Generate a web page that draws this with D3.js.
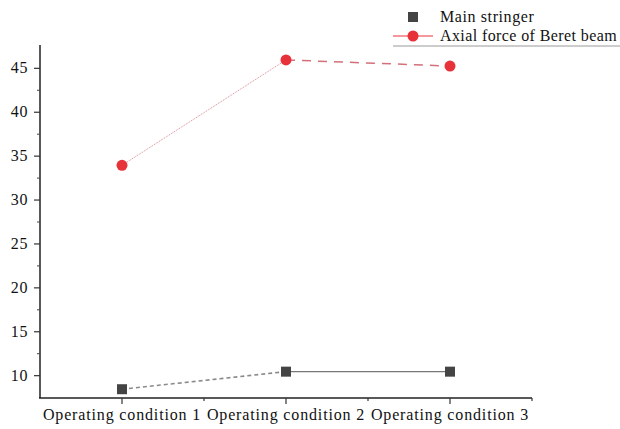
<!DOCTYPE html>
<html><head><meta charset="utf-8">
<script src="https://cdn.jsdelivr.net/npm/d3@7"></script>
<style>
html,body{margin:0;padding:0;background:#fff;}
text{font-family:"Liberation Serif","Times New Roman",serif;fill:#111;}
</style></head>
<body>
<svg id="c" width="620" height="429"></svg>
<script>
const categories = ["Operating condition 1","Operating condition 2","Operating condition 3"];
const stringerValues = [8.4, 10.4, 10.4];
const axialValues = [33.9, 45.9, 45.2];
const yTicks = [10, 15, 20, 25, 30, 35, 40, 45];
const yMinorTicks = [12.5, 17.5, 22.5, 27.5, 32.5, 37.5, 42.5];
const seriesNames = ["Main stringer", "Axial force of Beret beam"];

const svg = d3.select("#c");
const mLeft = 40, mRight = 532, mTop = 45, mBottom = 398;

const x = d3.scaleBand().domain(categories).range([mLeft, mRight]).padding(0);
const y = d3.scaleLinear().domain([7.4, 47.6]).range([mBottom, mTop]);
const cx = d => x(d) + x.bandwidth() / 2;

// Y axis
const yAxis = d3.axisLeft(y).tickValues(yTicks).tickSize(6).tickPadding(6).tickFormat(d3.format("d"));
const gy = svg.append("g").attr("transform", `translate(${mLeft},0)`).call(yAxis);
gy.select(".domain").attr("d", `M0,${mTop}V${mBottom}`).attr("stroke", "#222").attr("stroke-width", 1.5);
gy.selectAll(".tick line").attr("stroke", "#333").attr("stroke-width", 1.2);
gy.selectAll(".tick text").style("font-size", "16px").style("letter-spacing", "0.6px").attr("fill", "#222");
svg.append("g").attr("transform", `translate(${mLeft},0)`)
  .call(d3.axisLeft(y).tickValues(yMinorTicks).tickSize(3).tickFormat(""))
  .call(g => g.select(".domain").remove())
  .selectAll(".tick line").attr("stroke", "#444");

// X axis
const xAxis = d3.axisBottom(x).tickSize(6).tickPadding(5);
const gx = svg.append("g").attr("transform", `translate(0,${mBottom})`).call(xAxis);
gx.select(".domain").attr("d", `M${mLeft - 1},0H${mRight}`).attr("stroke", "#222").attr("stroke-width", 1.5);
gx.selectAll(".tick line").attr("stroke", "#333").attr("stroke-width", 1.2);
gx.selectAll(".tick text").style("font-size", "16px").style("letter-spacing", "0.85px").attr("fill", "#222");
const boundaries = categories.slice(1).map(c => x(c)).concat([mRight]);
svg.append("g").selectAll("line").data(boundaries).join("line")
  .attr("x1", d => d).attr("x2", d => d)
  .attr("y1", mBottom).attr("y2", mBottom + 3)
  .attr("stroke", "#333").attr("stroke-width", 1.2);

// Segment styles
const stringerSeg = [
  {color: "#8a8a8a", width: 1.6, dash: "4,3"},
  {color: "#777", width: 1.2, dash: null}
];
const axialSeg = [
  {color: "#d98990", width: 1, dash: "1,1"},
  {color: "#d47079", width: 1.5, dash: "9,7"}
];

function drawSeries(vals, segs) {
  const g = svg.append("g");
  for (let i = 0; i < vals.length - 1; i++) {
    g.append("line")
      .attr("x1", cx(categories[i])).attr("y1", y(vals[i]))
      .attr("x2", cx(categories[i + 1])).attr("y2", y(vals[i + 1]))
      .attr("stroke", segs[i].color).attr("stroke-width", segs[i].width)
      .attr("stroke-dasharray", segs[i].dash);
  }
  return g;
}
drawSeries(stringerValues, stringerSeg)
  .selectAll("rect").data(stringerValues).join("rect")
  .attr("x", (d, i) => cx(categories[i]) - 5).attr("y", d => y(d) - 5)
  .attr("width", 10).attr("height", 10).attr("fill", "#444");
drawSeries(axialValues, axialSeg)
  .selectAll("circle").data(axialValues).join("circle")
  .attr("cx", (d, i) => cx(categories[i])).attr("cy", d => y(d))
  .attr("r", 5.5).attr("fill", "#e8323a");

// Legend
const lg = svg.append("g");
lg.append("rect").attr("x", 408).attr("y", 12).attr("width", 10).attr("height", 10).attr("fill", "#444");
lg.append("text").attr("x", 440).attr("y", 22).style("font-size", "16px").style("letter-spacing", "0.6px").text(seriesNames[0]);
lg.append("line").attr("x1", 393).attr("x2", 433).attr("y1", 36).attr("y2", 36).attr("stroke", "#e8323a").attr("stroke-width", 1.2);
lg.append("circle").attr("cx", 413).attr("cy", 36).attr("r", 5.5).attr("fill", "#e8323a");
lg.append("text").attr("x", 440).attr("y", 41).style("font-size", "16px").style("letter-spacing", "0.4px").text(seriesNames[1]);
lg.append("line").attr("x1", 393).attr("x2", 620).attr("y1", 46).attr("y2", 46).attr("stroke", "#999").attr("stroke-width", 1);
</script>
</body></html>
